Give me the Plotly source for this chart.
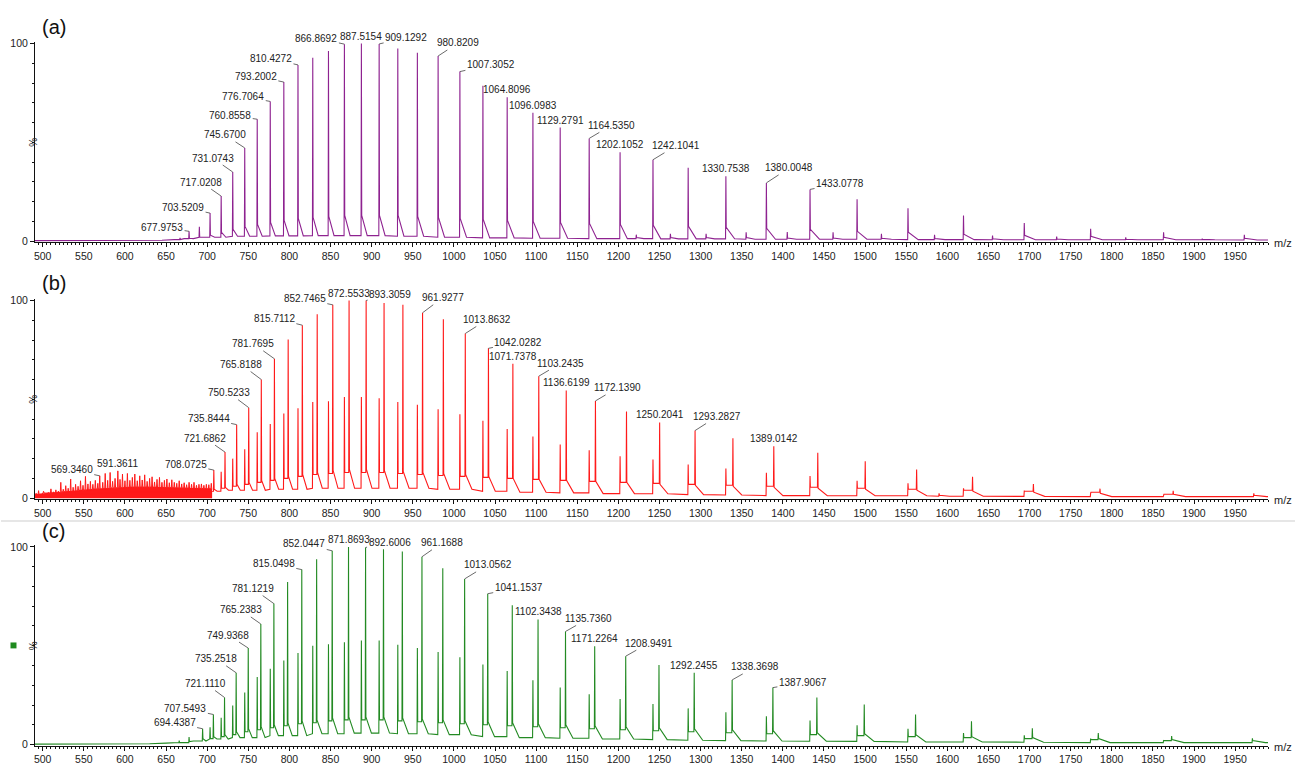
import numpy as np
import plotly.graph_objects as go

FONT = "Liberation Sans, Arial, sans-serif"

# ---------------- Panel (a) data ----------------
a_mz = [667.0, 677.9753, 690.5, 703.5209, 717.0208, 731.0743, 745.6700, 760.8558, 776.7064, 793.2002,
        810.4272, 828.4, 847.5, 866.8692, 887.5154, 909.1292, 931.8, 955.6, 980.8209, 1007.3052,
        1035.3, 1064.8096, 1096.0983, 1129.2791, 1164.5350, 1202.1052, 1221.8, 1242.1041, 1263.3, 1284.9,
        1306.7, 1330.7538, 1355.4, 1380.0048, 1405.4, 1433.0778, 1461.1, 1490.3, 1519.9, 1552.2,
        1584.5, 1619.7, 1655.0, 1693.6, 1733.0, 1774.3, 1817.0, 1863.0, 1910.0, 1961.2]
a_int = [1.7, 5.0, 7.3, 14.2, 22.8, 35.0, 47.2, 61.7, 70.7, 80.5,
         89.2, 92.8, 96.2, 99.7, 100.0, 99.8, 97.5, 95.3, 93.7, 85.8,
         78.7, 72.8, 65.0, 57.5, 52.0, 45.0, 3.3, 41.2, 3.7, 37.2,
         3.8, 32.8, 4.5, 29.5, 4.7, 26.2, 4.5, 21.2, 3.8, 16.7,
         3.3, 13.0, 2.8, 9.2, 2.3, 6.3, 2.0, 4.5, 1.3, 3.3]
a_tail = [0.8, 1.5, 2.0, 3.0, 4.5, 6.0, 7.5, 8.5, 9.5, 10.5,
          11.5, 12.0, 12.5, 13.0, 13.0, 13.0, 13.0, 12.5, 12.0, 11.5,
          11.0, 10.5, 10.0, 9.5, 9.0, 8.5, 1.8, 8.0, 1.8, 7.5,
          1.8, 7.0, 1.8, 6.5, 1.6, 6.0, 1.6, 5.0, 1.5, 4.5,
          1.4, 3.5, 1.2, 3.0, 1.1, 2.5, 1.0, 2.0, 0.9, 1.5]
a_base_mz = [490, 560, 620, 645, 660, 680, 700, 750, 800, 850, 900, 950, 1000, 1050, 1100, 1200,
             1300, 1400, 1500, 1600, 1700, 1800, 1900, 1990]
a_base = [0.3, 0.3, 0.3, 0.5, 0.8, 1.3, 2.0, 2.5, 2.7, 2.8, 2.8, 2.5, 2.0, 1.7, 1.5, 1.3,
          1.2, 1.0, 1.0, 0.8, 0.7, 0.7, 0.7, 0.6]
a_labels = [677.9753, 703.5209, 717.0208, 731.0743, 745.6700, 760.8558, 776.7064, 793.2002,
            810.4272, 866.8692, 887.5154, 909.1292, 980.8209, 1007.3052, 1064.8096, 1096.0983,
            1129.2791, 1164.5350, 1202.1052, 1242.1041, 1330.7538, 1380.0048, 1433.0778]

# ---------------- Panel (b) data ----------------
b1_mz = [708.0725, 721.6862, 735.8444, 750.5233, 765.8188, 781.7695, 798.5, 815.7112, 833.8, 852.7465,
         872.5533, 893.3059, 915.1, 938.0, 961.9277, 987.2, 1013.8632, 1042.0282, 1071.7378, 1103.2435,
         1136.6199, 1172.1390, 1209.9, 1250.2041, 1293.2827, 1339.3, 1389.0142, 1442.5, 1500.2, 1562.7,
         1630.7, 1704.7, 1785.7, 1874.7, 1972.7]
b1_int = [14.2, 23.3, 37.2, 45.8, 60.0, 70.5, 80.3, 87.5, 93.0, 97.8,
          100.0, 100.0, 98.7, 97.8, 93.8, 90.5, 83.3, 75.8, 68.0, 61.7,
          54.5, 49.2, 43.8, 38.3, 34.2, 30.3, 26.3, 23.0, 18.7, 14.5,
          10.8, 7.2, 4.8, 3.7, 2.5]
b1_tail = [4.5, 5.5, 7.0, 8.0, 9.0, 10.0, 11.0, 12.0, 13.0, 14.0,
           14.5, 14.5, 14.0, 13.5, 13.0, 12.5, 12.0, 11.0, 10.0, 9.5,
           9.0, 8.5, 8.0, 7.0, 6.5, 6.0, 5.5, 5.0, 4.5, 4.0,
           3.5, 3.0, 2.5, 2.0, 1.5]
b2_mz = [717.02, 731.07, 745.67, 760.86, 776.71, 793.20, 810.43, 828.4, 847.5, 866.87,
         887.52, 909.13, 931.8, 955.6, 980.82, 1007.31, 1035.3, 1064.81, 1096.10, 1129.28,
         1164.54, 1202.11, 1242.10, 1284.9, 1330.75, 1380.00, 1433.08, 1490.3, 1552.2, 1590.0,
         1619.7, 1693.6, 1774.3, 1863.0]
b2_int = [13.3, 20.0, 24.7, 33.3, 37.5, 42.8, 45.5, 48.7, 49.0, 51.2,
          51.2, 50.5, 48.7, 47.2, 45.0, 42.5, 39.2, 35.0, 31.2, 27.2,
          24.2, 21.2, 19.5, 17.0, 15.0, 12.8, 11.2, 8.8, 7.5, 2.5,
          5.0, 3.8, 2.5, 1.3]
b2_tail = [5.0, 6.0, 7.0, 8.0, 9.0, 10.0, 11.0, 12.0, 12.5, 13.0,
           13.0, 13.0, 12.5, 12.0, 11.5, 11.0, 10.5, 10.0, 9.5, 9.0,
           8.5, 8.0, 7.5, 7.0, 6.5, 6.0, 5.5, 5.0, 4.5, 1.5,
           4.0, 3.5, 3.0, 2.0]
b_base_mz = [490, 520, 560, 600, 650, 700, 750, 800, 850, 900, 950, 1000, 1050, 1100, 1150, 1200,
             1250, 1300, 1350, 1400, 1450, 1500, 1550, 1600, 1700, 1800, 1900, 1990]
b_base = [1.0, 1.5, 2.5, 3.0, 3.0, 3.5, 4.0, 4.5, 5.0, 5.0, 5.0, 4.5, 3.5, 3.0, 2.7, 2.3,
          2.2, 1.8, 1.6, 1.3, 1.3, 1.2, 1.2, 1.0, 0.9, 0.8, 0.8, 0.8]
b_noise_mz = [492, 495, 498, 501, 504, 507, 510, 513, 516, 519,
              522, 525, 528, 531, 534, 537, 540, 543, 546, 549,
              552, 555, 558, 561, 564, 567, 569.3460, 573, 576, 579,
              582, 585, 588, 591.3611, 594, 597, 600, 603, 606, 609,
              612, 615, 618, 621, 624, 627, 630, 633, 636, 639,
              642, 645, 648, 651, 654, 657, 660, 663, 666, 669,
              672, 675, 678, 681, 684, 687, 690, 693, 696, 699, 702, 705]
b_noise = [2.5, 3.8, 2.2, 3.5, 2.8, 3.0, 4.7, 3.2, 4.2, 3.6,
           8.0, 4.5, 6.3, 5.0, 9.7, 5.5, 7.0, 6.0, 8.8, 6.5,
           11.0, 7.2, 8.5, 7.0, 9.0, 7.5, 11.3, 8.0, 12.5, 9.0,
           13.0, 8.5, 10.0, 13.8, 9.5, 12.2, 8.8, 12.5, 9.0, 10.5,
           12.2, 8.8, 11.3, 9.2, 11.8, 8.5, 10.0, 10.8, 8.2, 9.5,
           10.5, 8.0, 9.0, 9.7, 7.8, 9.3, 8.0, 7.5, 8.8, 7.2,
           7.8, 6.8, 8.0, 7.0, 8.0, 6.5, 7.0, 7.2, 6.5, 7.0, 6.8, 7.5]
b_band_mz = [490.6, 510, 530, 550, 570, 590, 610, 630, 650, 670, 690, 706]
b_band = [1.8, 2.6, 3.2, 4.0, 4.6, 5.2, 5.5, 5.5, 5.2, 5.0, 4.8, 4.6]
b_labels = [569.3460, 591.3611, 708.0725, 721.6862, 735.8444, 750.5233, 765.8188, 781.7695,
            815.7112, 852.7465, 872.5533, 893.3059, 961.9277, 1013.8632, 1042.0282, 1071.7378,
            1103.2435, 1136.6199, 1172.1390, 1250.2041, 1293.2827, 1389.0142]

# ---------------- Panel (c) data ----------------
c1_mz = [694.4387, 707.5493, 721.1110, 735.2518, 749.9368, 765.2383, 781.1219, 797.8, 815.0498, 833.1,
         852.0447, 871.8693, 892.6006, 914.4, 937.3, 961.1688, 986.5, 1013.0562, 1041.1537, 1071.0,
         1102.3438, 1135.7360, 1171.2264, 1208.9491, 1249.4, 1292.2455, 1338.3698, 1387.9067, 1441.4, 1499.0,
         1561.4, 1629.4, 1703.4, 1783.6, 1872.8, 1971.0]
c1_int = [8.0, 15.2, 23.8, 36.3, 48.8, 61.0, 71.3, 82.2, 88.5, 93.8,
          98.0, 100.0, 99.7, 98.8, 97.7, 95.0, 89.2, 83.8, 76.3, 70.5,
          63.3, 57.2, 49.7, 44.7, 40.2, 36.3, 32.7, 28.8, 23.8, 20.2,
          15.2, 11.8, 8.3, 5.8, 4.3, 3.2]
c1_tail = [3.0, 4.0, 5.0, 6.5, 8.0, 9.0, 10.0, 11.0, 12.0, 12.5,
           13.5, 14.0, 14.0, 14.0, 13.5, 13.0, 12.5, 12.0, 11.5, 11.0,
           10.5, 10.0, 9.5, 9.0, 8.5, 8.0, 7.5, 7.0, 6.0, 5.5,
           5.0, 4.0, 3.5, 3.0, 2.5, 2.0]
c2_mz = [666.0, 677.98, 703.52, 717.02, 731.07, 745.67, 760.86, 776.71, 793.20, 810.43, 828.4,
         847.5, 866.87, 887.52, 909.13, 931.8, 955.6, 980.82, 1007.31, 1035.3, 1064.81,
         1096.10, 1129.28, 1164.54, 1202.11, 1242.10, 1284.9, 1330.75, 1380.00, 1433.08, 1490.3,
         1552.2, 1619.7, 1693.6, 1774.3, 1863.0]
c2_int = [2.0, 3.8, 8.8, 13.5, 19.7, 26.3, 34.2, 38.3, 42.5, 46.3, 50.0,
          50.8, 51.7, 52.7, 52.7, 50.5, 48.8, 46.8, 44.2, 40.5, 37.2,
          32.5, 28.8, 25.5, 23.0, 20.5, 18.3, 16.3, 14.3, 12.2, 9.7,
          8.0, 5.8, 4.7, 3.0, 2.2]
c2_tail = [1.0, 1.5, 3.0, 4.0, 5.0, 6.5, 7.5, 8.5, 9.5, 10.5, 11.0,
           12.0, 12.5, 12.5, 12.5, 12.0, 11.5, 11.0, 10.5, 10.0, 9.5,
           9.0, 8.5, 8.0, 7.5, 7.0, 6.5, 6.0, 5.5, 5.0, 4.5,
           4.0, 3.5, 3.0, 2.5, 2.0]
c_base_mz = [490, 600, 630, 650, 670, 690, 710, 750, 800, 850, 900, 950, 1000, 1050, 1100, 1150,
             1200, 1250, 1300, 1350, 1400, 1450, 1500, 1600, 1700, 1800, 1900, 1990]
c_base = [0.2, 0.2, 0.4, 0.7, 1.0, 1.8, 2.8, 3.5, 4.5, 5.5, 5.8, 5.5, 5.0, 4.0, 3.5, 3.2,
          2.8, 2.5, 2.2, 2.0, 1.8, 1.7, 1.6, 1.3, 1.2, 1.0, 1.0, 1.0]
c_labels = [694.4387, 707.5493, 721.1110, 735.2518, 749.9368, 765.2383, 781.1219, 815.0498,
            852.0447, 871.8693, 892.6006, 961.1688, 1013.0562, 1041.1537, 1102.3438, 1135.7360,
            1171.2264, 1208.9491, 1292.2455, 1338.3698, 1387.9067]

x_ticks = list(range(500, 2000, 50))

# ---------------- styling (label offsets in px; None = centred above peak) ----------------
a_label_off = [(-27, -4), (-27, -6), (-20, -14), (-20, -14), (-20, -13), (-27, -4), (-27, -5), (-28, -6),
               (-27, -6), (-28, -6), None, (27, -6), (20, -13), (31, -7), None, None,
               None, (22, -13), None, (23, -14), None, (23, -15), (30, -6)]
b_label_off = [(-28, -6), None, (-28, -6), (-20, -14), (-28, -6), (-20, -15), (-20, -15), (-21, -15),
               (-28, -7), (-28, -6), None, (24, -6), (20, -15), (22, -14), (30, -6), None,
               (22, -13), None, (22, -13), None, (22, -14), None]
c_label_off = [(-28, -6), (-28, -6), (-19, -14), (-20, -14), (-20, -13), (-20, -14), (-21, -15), (-28, -6),
               (-28, -7), None, (24, -5), (20, -14), (23, -14), (31, -6), None, (23, -13),
               None, (23, -13), None, (23, -13), (30, -5)]

COL_A = "#8E2290"
COL_B = "#FF1A1A"
COL_C = "#238A23"
X_RANGE = [490.6, 1990]
X_DOM = [34 / 1295, 1268 / 1295]
Y_RANGE = [-0.5, 101]
Y_DOMS = [[1 - 241 / 771, 1 - 38 / 771],
          [1 - 501 / 771, 1 - 298 / 771],
          [1 - 750.3 / 771, 1 - 547.3 / 771]]


def nearest(x, bx, by):
    bx = np.asarray(bx, dtype=float)
    return float(by[int(np.argmin(np.abs(bx - x)))])


def profile(pk_mz, pk_h, pk_tail, bx, by, join_rel=0.009, decay=0.45, decay_rel=0.008):
    order = np.argsort(pk_mz)
    mz = np.asarray(pk_mz, float)[order]
    h = np.asarray(pk_h, float)[order]
    t = np.asarray(pk_tail, float)[order]
    xs, ys = [], []
    for bxi, byi in zip(bx, by):
        if bxi < mz[0] - 3:
            xs.append(bxi); ys.append(byi)
    for k in range(len(mz)):
        m = mz[k]
        if k == 0:
            foot = nearest(m, bx, by)
        else:
            gap = m - mz[k - 1]
            if gap > join_rel * m:
                v = mz[k - 1] + min(decay * gap, decay_rel * mz[k - 1])
                xs.append(v); ys.append(nearest(v, bx, by))
                foot = nearest(m, bx, by)
            else:
                foot = t[k - 1]
        xs += [m - 0.4, m, m + 0.4]
        ys += [foot, h[k], t[k]]
    v = mz[-1] + decay_rel * mz[-1]
    xs.append(v); ys.append(nearest(v, bx, by))
    for bxi, byi in zip(bx, by):
        if bxi > v:
            xs.append(bxi); ys.append(byi)
    return xs, ys


def needles(sp_mz, sp_h, bx, by, half=0.6):
    xs, ys = [], []
    for m, hh in zip(sp_mz, sp_h):
        fl = nearest(m, bx, by)
        xs += [m - half, m, m + half]
        ys += [fl, hh, fl]
    return xs, ys


fig = go.Figure()
LBL = dict(family=FONT, size=10, color="#222222")

panels = [
    dict(mz=a_mz, h=a_int, t=a_tail, bx=a_base_mz, by=a_base, col=COL_A,
         labels=a_labels, off=a_label_off, name="(a)", ly=23),
    dict(mz=b1_mz + b2_mz, h=b1_int + b2_int, t=b1_tail + b2_tail, bx=b_base_mz, by=b_base, col=COL_B,
         labels=b_labels, off=b_label_off, name="(b)", ly=282),
    dict(mz=c1_mz + c2_mz, h=c1_int + c2_int, t=c1_tail + c2_tail, bx=c_base_mz, by=c_base, col=COL_C,
         labels=c_labels, off=c_label_off, name="(c)", ly=533),
]

for k, P in enumerate(panels):
    xa = "x" if k == 0 else f"x{k + 1}"
    ya = "y" if k == 0 else f"y{k + 1}"
    if k == 1:
        fig.add_trace(go.Scatter(x=b_band_mz, y=b_band, mode="lines", fill="tozeroy",
                                 fillcolor=COL_B, line=dict(color=COL_B, width=1),
                                 xaxis=xa, yaxis=ya, hoverinfo="skip", showlegend=False))
        nx, ny = needles(b_noise_mz, b_noise, b_band_mz, b_band)
        fig.add_trace(go.Scatter(x=nx, y=ny, mode="lines", line=dict(color=COL_B, width=1),
                                 xaxis=xa, yaxis=ya, hoverinfo="skip", showlegend=False))
    px_, py_ = profile(P["mz"], P["h"], P["t"], P["bx"], P["by"])
    fig.add_trace(go.Scatter(x=px_, y=py_, mode="lines", line=dict(color=P["col"], width=1.1),
                             xaxis=xa, yaxis=ya, hoverinfo="skip", showlegend=False))

    all_mz = list(P["mz"]) + (b_noise_mz if k == 1 else [])
    all_h = list(P["h"]) + (b_noise if k == 1 else [])
    for m, off in zip(P["labels"], P["off"]):
        i = int(np.argmin(np.abs(np.asarray(all_mz) - m)))
        yv = all_h[i]
        txt = f"{m:.4f}"
        if off is None:
            fig.add_annotation(x=m, y=yv, xref=xa, yref=ya, text=txt, showarrow=False,
                               yanchor="bottom", yshift=0, font=LBL)
        else:
            fig.add_annotation(x=m, y=yv, xref=xa, yref=ya, text=txt, showarrow=True,
                               arrowhead=0, arrowwidth=0.8, arrowcolor="#444444",
                               ax=off[0], ay=off[1], standoff=0, startstandoff=0, font=LBL)

    axis_common = dict(showline=True, linecolor="#111111", linewidth=1, ticks="outside",
                       tickcolor="#111111", tickwidth=1, showgrid=False, zeroline=False,
                       tickfont=dict(family=FONT, size=10.5, color="#222222"))
    fig.layout[("xaxis" if k == 0 else f"xaxis{k + 1}")] = dict(
        range=X_RANGE, domain=X_DOM, anchor=ya, tickmode="array", tickvals=x_ticks, ticklen=4,
        minor=dict(tick0=500, dtick=5, ticklen=2, ticks="outside", tickcolor="#111111", showgrid=False),
        **axis_common)
    fig.layout[("yaxis" if k == 0 else f"yaxis{k + 1}")] = dict(
        range=Y_RANGE, domain=Y_DOMS[k], anchor=xa, tickmode="array", tickvals=[0, 100], ticklen=4,
        minor=dict(tick0=0, dtick=10, ticklen=2, ticks="outside", tickcolor="#111111", showgrid=False),
        **axis_common)

    fig.add_annotation(x=1283 / 1295, xref="paper", y=0, yref=ya, text="m/z", showarrow=False,
                       xanchor="center", yanchor="middle", yshift=-2,
                       font=dict(family=FONT, size=11, color="#222222"))
    fig.add_annotation(x=25 / 1295, xref="paper", y=50, yref=ya, text="%", showarrow=False,
                       textangle=-90, font=dict(family=FONT, size=10, color="#222222"))
    fig.add_annotation(x=53 / 1295, xref="paper", y=1 - P["ly"] / 771, yref="paper", text=P["name"],
                       showarrow=False, xanchor="center", yanchor="middle",
                       font=dict(family=FONT, size=20, color="#111111"))

fig.add_shape(type="line", xref="paper", yref="paper", x0=0, x1=1, y0=1 - 523 / 771, y1=1 - 523 / 771,
              line=dict(color="#E6E6E6", width=2))
fig.add_shape(type="rect", xref="paper", yref="paper", x0=9.5 / 1295, x1=15.5 / 1295,
              y0=1 - 652 / 771, y1=1 - 646 / 771, fillcolor="#1E8A1E", line=dict(width=0))

fig.update_layout(width=1295, height=771, margin=dict(l=0, r=0, t=0, b=0),
                  paper_bgcolor="white", plot_bgcolor="white", showlegend=False,
                  hovermode=False, font=dict(family=FONT, size=10, color="#222222"))

fig.write_html("out.html", config={"displayModeBar": False},
               post_script="document.body.style.margin='0px';")
